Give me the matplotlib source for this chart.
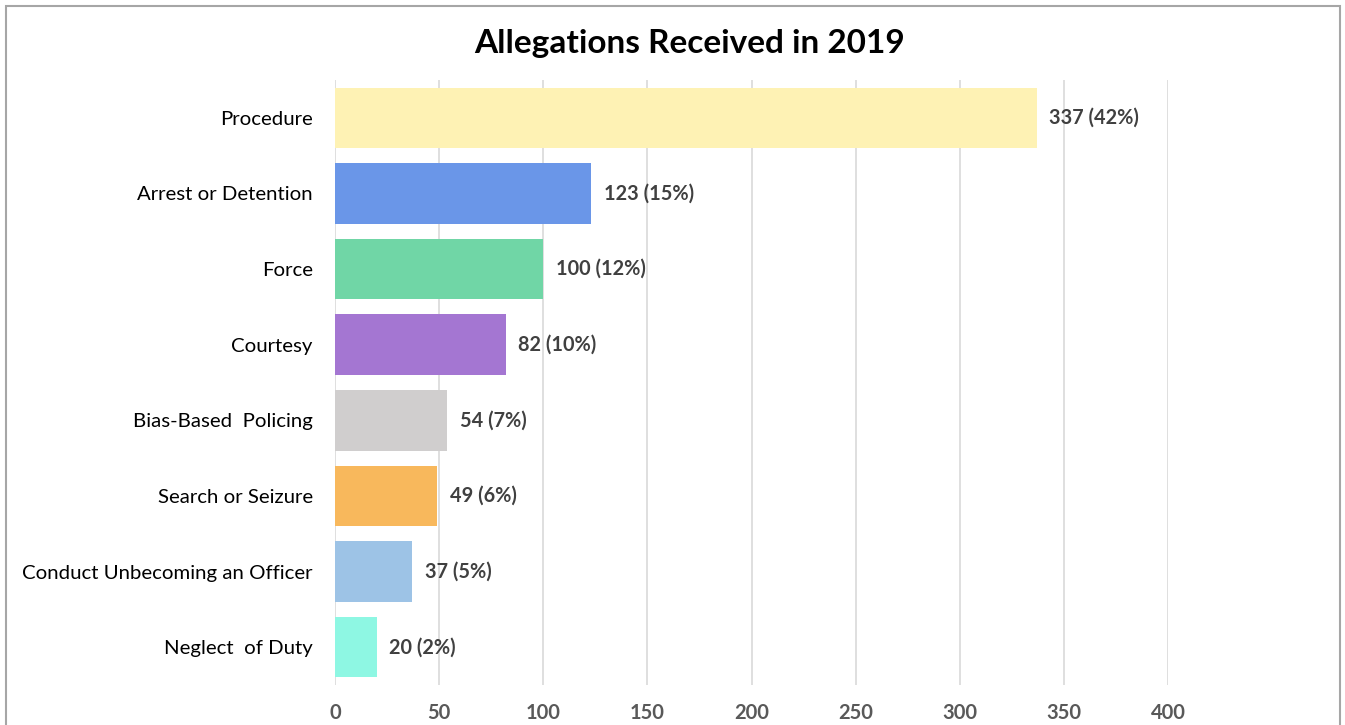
import matplotlib.pyplot as plt
from matplotlib.patches import Rectangle

categories = ['Procedure', 'Arrest or Detention', 'Force', 'Courtesy',
              'Bias-Based  Policing', 'Search or Seizure',
              'Conduct Unbecoming an Officer', 'Neglect  of Duty']
counts = [337, 123, 100, 82, 54, 49, 37, 20]
percents = [42, 15, 12, 10, 7, 6, 5, 2]
colors = ['#FEF2B4', '#6A96E8', '#70D6A6', '#A476D2',
          '#D0CECE', '#F8B85C', '#9DC3E6', '#8EF7E3']
xticks = [0, 50, 100, 150, 200, 250, 300, 350, 400]

plt.rcParams['font.family'] = ['Lato', 'DejaVu Sans']

fig = plt.figure(figsize=(13.45, 7.25), dpi=100)
ax = fig.add_axes([335 / 1345, 1 - 685 / 725, (1168 - 335) / 1345, (685 - 80) / 725])

ypos = list(range(len(categories)))
ax.barh(ypos, counts, height=0.8, color=colors)
for y, c, p in zip(ypos, counts, percents):
    ax.text(c + 6, y, f'{c} ({p}%)', va='center', ha='left',
            fontsize=14.3, fontweight='bold', color='#404040')

ax.set_xlim(0, 400)
ax.set_ylim(len(categories) - 0.5, -0.5)
ax.set_yticks(ypos)
ax.set_yticklabels(categories, fontsize=14.7, color='#000000')
ax.set_xticks(xticks)
ax.set_xticklabels([str(t) for t in xticks], fontsize=14.5, fontweight='bold', color='#595959')
ax.tick_params(axis='y', length=0, pad=16)
ax.tick_params(axis='x', length=0, pad=13)
ax.grid(axis='x', color='#D9D9D9', linewidth=1.2)
ax.set_axisbelow(True)
for s in ax.spines.values():
    s.set_visible(False)

fig.text(690 / 1345, 1 - 43 / 725, 'Allegations Received in 2019', ha='center', va='center',
         fontsize=24, fontweight='bold', color='#000000')

fig.patches.append(Rectangle((6 / 1345, -0.05), (1340 - 6) / 1345, 1.05 - 6 / 725,
                             transform=fig.transFigure, fill=False,
                             edgecolor='#A6A6A6', linewidth=1.5))

plt.savefig('out.png', dpi=100)
